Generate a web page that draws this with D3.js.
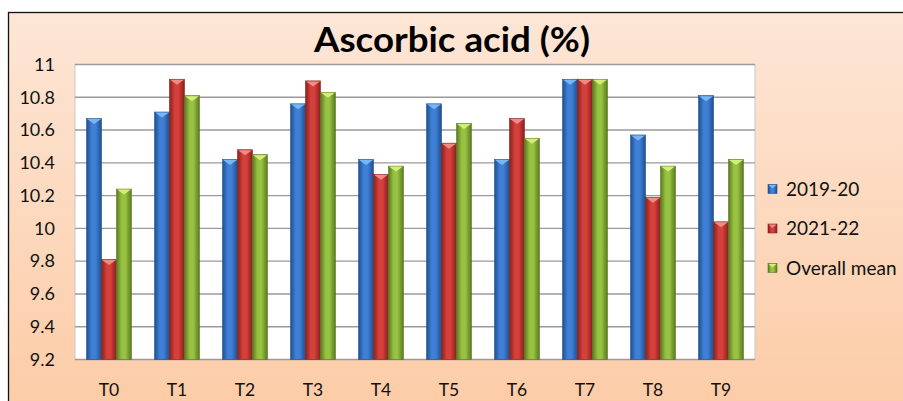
<!DOCTYPE html>
<html>
<head>
<meta charset="utf-8">
<script src="https://cdn.jsdelivr.net/npm/d3@7"></script>
<style>
  html, body { margin: 0; padding: 0; background: #fff; overflow: hidden; }
  svg { display: block; font-family: Lato, "Open Sans", sans-serif; }
</style>
</head>
<body>
<svg id="chart" width="903" height="401"></svg>
<script>
// data
const treatments = ["T0", "T1", "T2", "T3", "T4", "T5", "T6", "T7", "T8", "T9"];
const seriesNames = ["2019-20", "2021-22", "Overall mean"];
const y2019 = [10.67, 10.71, 10.42, 10.76, 10.42, 10.76, 10.42, 10.91, 10.57, 10.81];
const y2021 = [9.81, 10.91, 10.48, 10.90, 10.33, 10.52, 10.67, 10.91, 10.19, 10.04];
const yMean = [10.24, 10.81, 10.45, 10.83, 10.38, 10.64, 10.55, 10.91, 10.38, 10.42];
const yTicks = [9.2, 9.4, 9.6, 9.8, 10, 10.2, 10.4, 10.6, 10.8, 11];

const values = [y2019, y2021, yMean];
const rows = treatments.map((t, i) => ({ t, vals: values.map((s, k) => ({ k, v: s[i] })) }));

// colours for each series: edge, mid, light (bevel)
const palette = [
  { edge: "#1f4f8f", mid: "#3f80d6", light: "#78b6f5" },
  { edge: "#8a201d", mid: "#d4403a", light: "#f08a84" },
  { edge: "#5a7a1f", mid: "#98c242", light: "#d3ec7c" }
];

const svg = d3.select("#chart");
const defs = svg.append("defs");

// chart background
const bg = defs.append("linearGradient").attr("id", "bg")
  .attr("x1", 0).attr("y1", 0).attr("x2", 0).attr("y2", 1);
bg.append("stop").attr("offset", "0%").attr("stop-color", "#fde6d6");
bg.append("stop").attr("offset", "100%").attr("stop-color", "#fcc59a");

palette.forEach((c, k) => {
  const g = defs.append("linearGradient").attr("id", "bar" + k)
    .attr("x1", 0).attr("y1", 0).attr("x2", 1).attr("y2", 0);
  g.append("stop").attr("offset", "0%").attr("stop-color", c.edge);
  g.append("stop").attr("offset", "35%").attr("stop-color", c.mid);
  g.append("stop").attr("offset", "60%").attr("stop-color", c.mid);
  g.append("stop").attr("offset", "100%").attr("stop-color", c.edge);
});

svg.append("rect")
  .attr("x", 8.5).attr("y", 12.5)
  .attr("width", 1000).attr("height", 500)
  .attr("fill", "url(#bg)")
  .attr("stroke", "#111").attr("stroke-width", 1.3);

const plot = { left: 75, right: 755, top: 64.5, bottom: 359.5 };

const x = d3.scaleBand().domain(treatments)
  .range([plot.left, plot.right]).paddingInner(0.34).paddingOuter(0.17);
const xs = d3.scaleBand().domain([0, 1, 2]).range([0, x.bandwidth()]);
const y = d3.scaleLinear().domain([9.2, 11]).range([plot.bottom, plot.top]);

// plot area
svg.append("rect")
  .attr("x", plot.left).attr("y", plot.top)
  .attr("width", plot.right - plot.left).attr("height", plot.bottom - plot.top)
  .attr("fill", "#fff").attr("stroke", "#c8c8c8").attr("stroke-width", 1);

// gridlines
svg.append("g").selectAll("line").data(yTicks.slice(1)).join("line")
  .attr("x1", plot.left).attr("x2", plot.right)
  .attr("y1", d => y(d)).attr("y2", d => y(d))
  .attr("stroke", "#9a9a9a").attr("stroke-width", 1.4);

// y axis labels
const yAxis = svg.append("g")
  .attr("transform", `translate(${plot.left - 6},0)`)
  .call(d3.axisLeft(y).tickValues(yTicks).tickSize(0).tickPadding(14)
    .tickFormat(d => d3.format("")(+d.toFixed(1))));
yAxis.select(".domain").remove();
yAxis.selectAll("text")
  .attr("font-family", "Lato, sans-serif").attr("font-size", 18).attr("fill", "#111");

// bottom axis line
svg.append("line")
  .attr("x1", plot.left).attr("x2", plot.right)
  .attr("y1", plot.bottom).attr("y2", plot.bottom)
  .attr("stroke", "#9a9a9a").attr("stroke-width", 1.4);

// x axis labels
const xAxis = svg.append("g")
  .attr("transform", `translate(0,${plot.bottom})`)
  .call(d3.axisBottom(x).tickSize(0).tickPadding(24));
xAxis.select(".domain").remove();
xAxis.selectAll("text")
  .attr("font-family", "Lato, sans-serif").attr("font-size", 17.5).attr("fill", "#111");

// bars
const bev = 5;
const groups = svg.append("g").selectAll("g").data(rows).join("g")
  .attr("transform", d => `translate(${x(d.t)},0)`);

groups.selectAll("rect").data(d => d.vals).join("rect")
  .attr("x", d => xs(d.k))
  .attr("y", d => y(d.v))
  .attr("width", xs.bandwidth())
  .attr("height", d => plot.bottom - y(d.v))
  .attr("fill", d => `url(#bar${d.k})`)
  .attr("stroke", d => palette[d.k].edge).attr("stroke-width", 0.6);

groups.selectAll("path").data(d => d.vals).join("path")
  .attr("d", d => {
    const x0 = xs(d.k) + 0.5, x1 = xs(d.k) + xs.bandwidth() - 0.5, yt = y(d.v) + 0.5;
    return `M${x0},${yt}L${x1},${yt}L${(x0 + x1) / 2},${yt + bev}Z`;
  })
  .attr("fill", d => palette[d.k].light);

// title
svg.append("text")
  .attr("x", 452).attr("y", 52)
  .attr("text-anchor", "middle")
  .attr("font-family", "Lato, sans-serif")
  .attr("font-weight", "bold").attr("font-size", 34)
  .attr("textLength", 276).attr("lengthAdjust", "spacingAndGlyphs")
  .attr("fill", "#000")
  .text("Ascorbic acid (%)");

// legend
const legend = svg.append("g").selectAll("g").data(seriesNames).join("g")
  .attr("transform", (d, i) => `translate(768,${189 + i * 39.5})`);
legend.append("rect")
  .attr("x", 0).attr("y", -4.5).attr("width", 9).attr("height", 9)
  .attr("fill", (d, i) => `url(#bar${i})`)
  .attr("stroke", (d, i) => palette[i].edge).attr("stroke-width", 0.6);
legend.append("path")
  .attr("d", "M0.5,-4L8.5,-4L4.5,-0.5Z")
  .attr("fill", (d, i) => palette[i].light);
legend.append("text")
  .attr("x", 18).attr("y", 6.5)
  .attr("font-family", "Lato, sans-serif").attr("font-size", 19).attr("fill", "#111")
  .text(d => d);
</script>
</body>
</html>
